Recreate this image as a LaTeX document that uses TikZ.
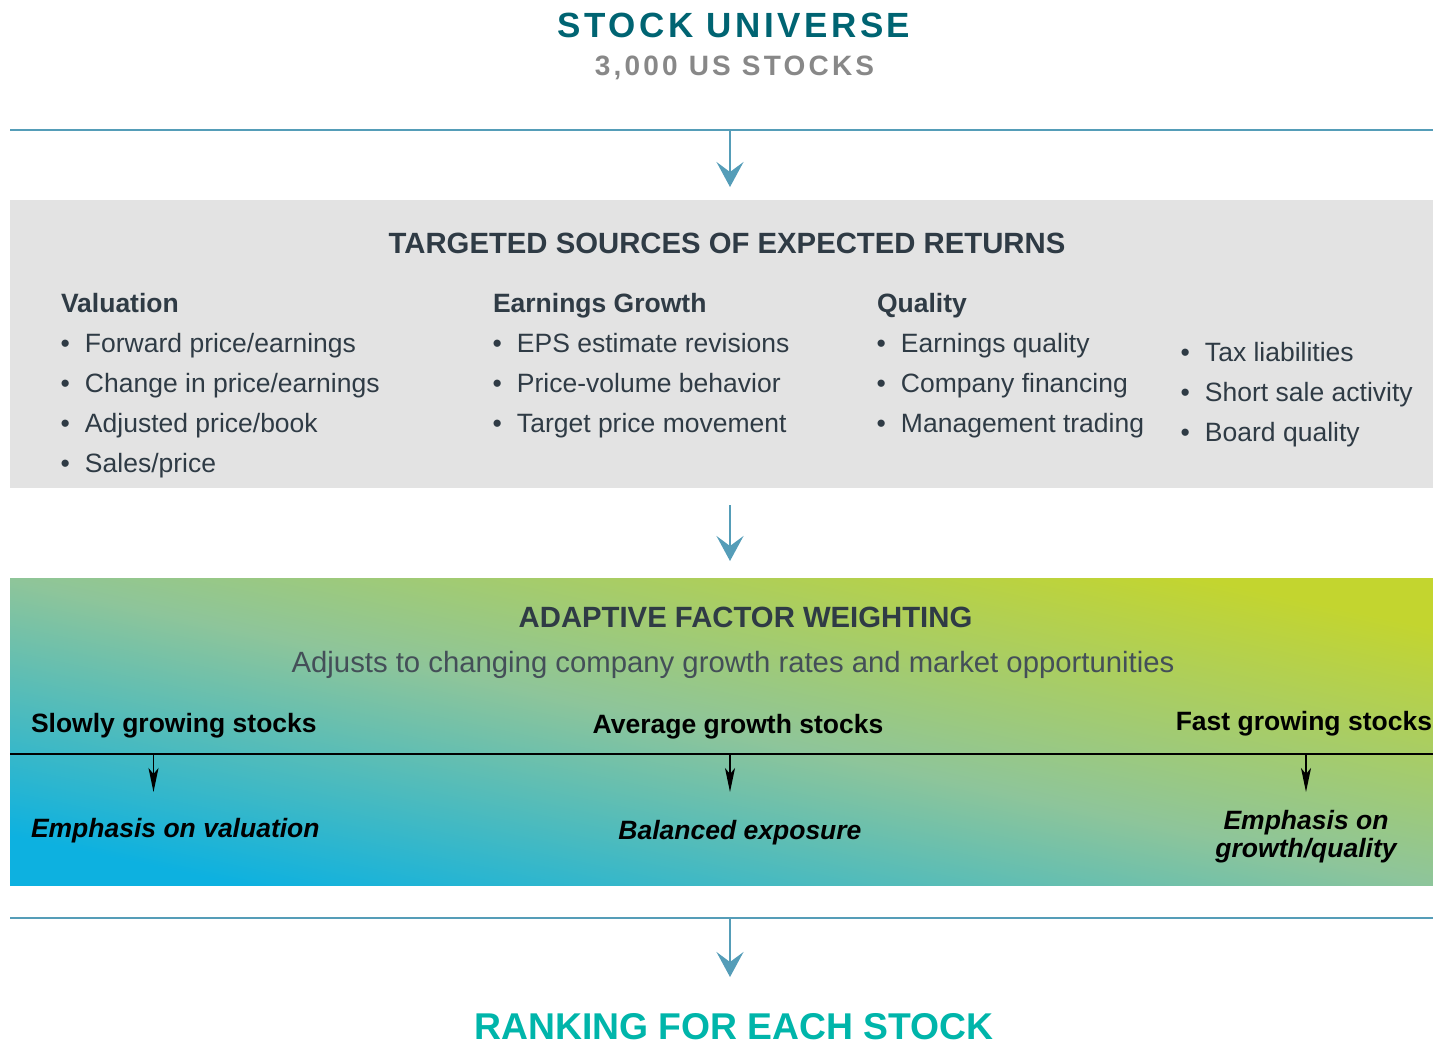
\documentclass[tikz,border=0pt]{standalone}
\usepackage{fontspec}
\setmainfont{Liberation Sans}
\usetikzlibrary{arrows.meta}
\definecolor{ink}{HTML}{2F3B45}
\definecolor{flowblue}{HTML}{559DB8}
\definecolor{boxgray}{HTML}{E3E3E3}
\definecolor{titleteal}{HTML}{006472}
\definecolor{subgray}{HTML}{888888}
\definecolor{rankteal}{HTML}{00B5AA}
\definecolor{gbot}{HTML}{0DB1E0}
\definecolor{gmid}{HTML}{8EC59A}
\definecolor{gtop}{HTML}{C3D52F}
\newcommand\mybul{\makebox[24.5pt][l]{•}}
\begin{document}
\begin{tikzpicture}[x=1pt,y=-1pt,
  base/.style={inner sep=0pt, outer sep=0pt},
  hdr/.style={base, anchor=base west, font=\fontsize{26.5}{31}\selectfont\bfseries, text=ink},
  item/.style={base, anchor=base west, font=\fontsize{26.5}{31}\selectfont, text=ink},
  ttl/.style={base, anchor=base, font=\fontsize{29.3}{34}\selectfont\bfseries, text=ink},
  grp/.style={base, font=\fontsize{26.5}{31}\selectfont\bfseries, text=black},
  emphtxt/.style={base, font=\fontsize{26.5}{31}\selectfont\bfseries\itshape, text=black},
  flow/.style={draw=flowblue, line width=2pt, -{Stealth[length=25pt,width=27pt,inset=10pt]}},
  sarrow/.style={draw=black, line width=1.5pt, -{Stealth[length=24pt,width=10pt,inset=6pt]}},
  rulel/.style={draw=flowblue, line width=2pt},
]
\useasboundingbox (0,0) rectangle (1433,1045);

% titles
\node[base, anchor=base, text=titleteal, font=\fontsize{35}{40}\selectfont\bfseries\addfontfeature{LetterSpace=10}] (univ) at (734,37) {STOCK UNIVERSE};
\node[base, anchor=base, text=subgray, font=\fontsize{28}{33}\selectfont\bfseries\addfontfeature{LetterSpace=11.5}] (univsub) at (734.5,75) {3,000 US STOCKS};

% rule 1 and arrow
\coordinate (r1a) at (10,130);
\coordinate (r1b) at (1433,130);
\coordinate (r1m) at (730,130);
\coordinate (t1) at (730,187);
\draw[rulel] (r1a) -- (r1b);
\draw[flow] (r1m) -- (t1);

% gray box
\node[base, anchor=north west, fill=boxgray, minimum width=1423pt, minimum height=288pt] (src) at (10,200) {};
\node[ttl] (srct) at (727,253.5) {TARGETED SOURCES OF EXPECTED RETURNS};

\node[hdr] (valh) at (61,312) {Valuation};
\node[item] (v1) at (60.5,352) {\mybul Forward price/earnings};
\node[item] (v2) at (60.5,392) {\mybul Change in price/earnings};
\node[item] (v3) at (60.5,432) {\mybul Adjusted price/book};
\node[item] (v4) at (60.5,472) {\mybul Sales/price};

\node[hdr] (egh) at (493,312) {Earnings Growth};
\node[item] (e1) at (492.5,352) {\mybul EPS estimate revisions};
\node[item] (e2) at (492.5,392) {\mybul Price-volume behavior};
\node[item] (e3) at (492.5,432) {\mybul Target price movement};

\node[hdr] (qh) at (877,312) {Quality};
\node[item] (q1) at (876.5,352) {\mybul Earnings quality};
\node[item] (q2) at (876.5,392) {\mybul Company financing};
\node[item] (q3) at (876.5,432) {\mybul Management trading};

\node[item] (x1) at (1180.5,361) {\mybul Tax liabilities};
\node[item] (x2) at (1180.5,401) {\mybul Short sale activity};
\node[item] (x3) at (1180.5,441) {\mybul Board quality};

% arrow 2
\coordinate (s2) at (730,505);
\coordinate (t2) at (730,561);
\draw[flow] (s2) -- (t2);

% gradient box
\node[base, anchor=north west, minimum width=1423pt, minimum height=307pt,
  top color=gtop, bottom color=gbot, middle color=gmid, shading angle=-12] (afw) at (10,578) {};
\node[ttl] (afwt) at (745.5,627.5) {ADAPTIVE FACTOR WEIGHTING};
\node[base, anchor=base, text=ink!90!white, font=\fontsize{29.3}{34}\selectfont] (afws) at (733,672) {Adjusts to changing company growth rates and market opportunities};

\node[grp, anchor=base west] (slow) at (31,732) {Slowly growing stocks};
\node[grp, anchor=base] (avg) at (738,733) {Average growth stocks};
\node[grp, anchor=base east] (fast) at (1432,730) {Fast growing stocks};

\coordinate (bl) at (10,753.5);
\coordinate (br) at (1433,753.5);
\draw[black, line width=2pt] (bl) -- (br);

\coordinate (a1s) at (153.5,753.5);
\coordinate (a1t) at (153.5,792);
\coordinate (a2s) at (730,753.5);
\coordinate (a2t) at (730,792);
\coordinate (a3s) at (1306,753.5);
\coordinate (a3t) at (1306,792);
\draw[sarrow] (a1s) -- (a1t);
\draw[sarrow] (a2s) -- (a2t);
\draw[sarrow] (a3s) -- (a3t);

\node[emphtxt, anchor=base west] (ev) at (31,837) {Emphasis on valuation};
\node[emphtxt, anchor=base] (be) at (740,839.5) {Balanced exposure};
\node[emphtxt, anchor=base] (eg1) at (1306,829) {Emphasis on};
\node[emphtxt, anchor=base] (eg2) at (1306,857) {growth/quality};

% rule 3 and arrow
\coordinate (r3a) at (10,918);
\coordinate (r3b) at (1433,918);
\coordinate (r3m) at (730,918);
\coordinate (t3) at (730,977);
\draw[rulel] (r3a) -- (r3b);
\draw[flow] (r3m) -- (t3);

\node[base, anchor=base, text=rankteal, font=\fontsize{37.3}{44}\selectfont\bfseries] (rank) at (734,1039) {RANKING FOR EACH STOCK};
\end{tikzpicture}
\end{document}
